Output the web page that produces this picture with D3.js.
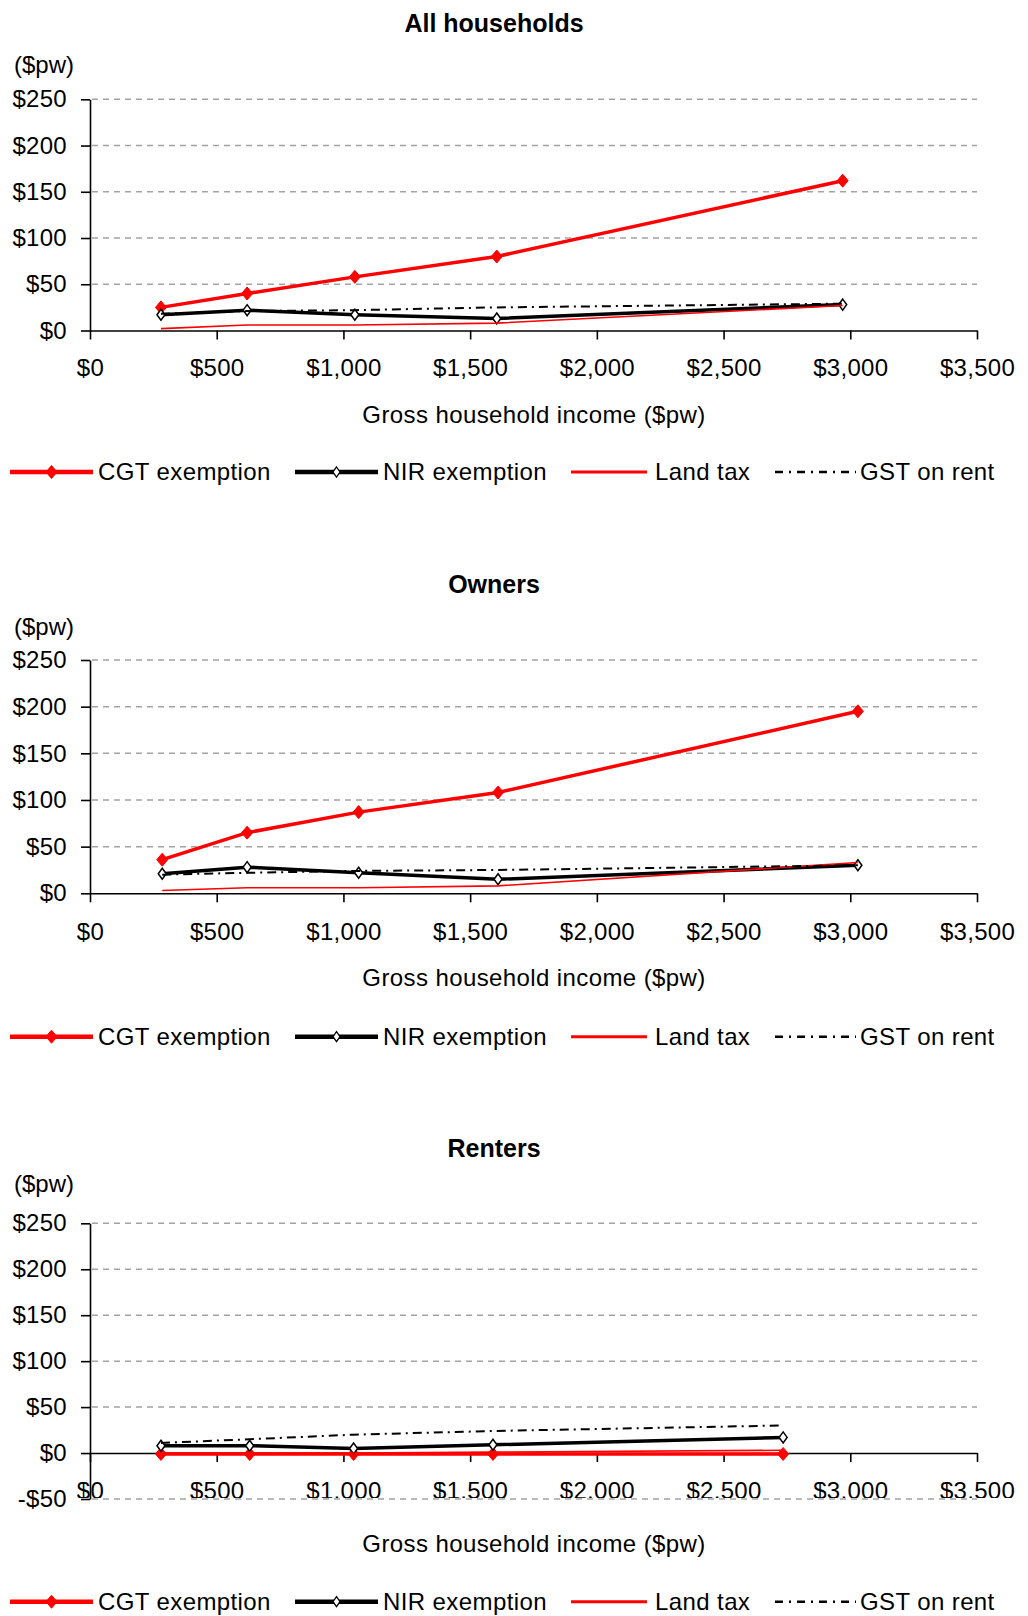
<!DOCTYPE html>
<html><head><meta charset="utf-8">
<script src="https://cdn.jsdelivr.net/npm/d3@7"></script>
<style>
body{margin:0;background:#fff}
text{font-family:"Liberation Sans",Arial,sans-serif;fill:#000}
</style>
</head><body>
<svg id="c" width="1028" height="1616"></svg>
<script>
// ---------- data ----------
const seriesNames = ["CGT exemption", "NIR exemption", "Land tax", "GST on rent"];
const xTicks = [0, 500, 1000, 1500, 2000, 2500, 3000, 3500];
const yTicksMain = [0, 50, 100, 150, 200, 250];
const yTicksRenters = [-50, 0, 50, 100, 150, 200, 250];

const allIncome = [280, 620, 1045, 1605, 2970];
const allCGT  = [25, 40, 58, 80, 162];
const allNIR  = [17, 22, 17, 13, 28];
const allLand = [2, 6, 6, 8, 27];
const allGST  = [18, 21, 22, 25, 29];

const ownIncome = [285, 620, 1060, 1610, 3030];
const ownCGT  = [36, 65, 87, 108, 195];
const ownNIR  = [21, 28, 22, 15, 30];
const ownLand = [3, 6, 6, 8, 33];
const ownGST  = [20, 22, 24, 25, 30];

const rentIncome = [280, 630, 1040, 1590, 2735];
const rentCGT  = [-1, -1, -1, -1, -1];
const rentNIR  = [8, 8, 5, 9, 17];
const rentLand = [0, 0, 0, 1, 3];
const rentGST  = [11, 15, 20, 24, 30];

// ---------- styles ----------
const styles = [
  {color: "#ff0000", width: 3.5, dash: null, marker: "filled", lw: 4.5, ldash: null},
  {color: "#000000", width: 3.5, dash: null, marker: "open", lw: 4.5, ldash: null},
  {color: "#ff0000", width: 1.6, dash: null, marker: null, lw: 3, ldash: null},
  {color: "#000000", width: 2, dash: "9,5,2,5", marker: null, lw: 2.5, ldash: "8,6,2,6"}
];
const legendLine = [[10, 93], [295, 378], [571, 647], [775, 856]];
const legendText = [98, 383, 655, 860];

const svg = d3.select("#c");
const defs = svg.append("defs");

function diamond(w, h) {
  return `M0,${-h/2}L${w/2},0L0,${h/2}L${-w/2},0Z`;
}

function drawChart(cfg, idx) {
  const x = d3.scaleLinear().domain([0, 3500]).range([90, 977]);
  const y = d3.scaleLinear().domain(cfg.yDomain).range(cfg.yRange);
  const g = svg.append("g");

  g.append("text").attr("x", 494).attr("y", cfg.titleY)
    .attr("text-anchor", "middle").attr("font-size", 25).attr("font-weight", "bold")
    .text(cfg.title);
  g.append("text").attr("x", 14).attr("y", cfg.unitY).attr("dy", "0.35em")
    .attr("font-size", 24).text("($pw)");

  // gridlines
  g.append("g").selectAll("line").data(cfg.yTicks.filter(v => v !== 0)).join("line")
    .attr("x1", 92).attr("x2", 977)
    .attr("y1", d => y(d)).attr("y2", d => y(d))
    .attr("stroke", "#a3a3a3").attr("stroke-width", 1.5).attr("stroke-dasharray", "6,5");

  // y axis
  const ya = g.append("g").attr("transform", "translate(90,0)")
    .call(d3.axisLeft(y).tickValues(cfg.yTicks).tickSize(9).tickSizeOuter(0).tickPadding(14)
      .tickFormat(d => (d < 0 ? "-" : "") + "$" + Math.abs(d)));
  ya.selectAll("text").attr("font-size", 24).attr("font-family", null).attr("letter-spacing", 0.3);
  ya.selectAll("line,path").attr("stroke", "#000").attr("stroke-width", 1.6);

  // x axis
  const clipId = "clip" + idx;
  defs.append("clipPath").attr("id", clipId).append("rect")
    .attr("x", 0).attr("y", 0).attr("width", 1028).attr("height", cfg.clipBottom);
  const xaWrap = g.append("g").attr("clip-path", `url(#${clipId})`);
  const xa = xaWrap.append("g").attr("transform", `translate(0,${y(0)})`)
    .call(d3.axisBottom(x).tickValues(xTicks).tickSize(9).tickSizeOuter(0)
      .tickFormat(d3.format("$,")));
  xa.selectAll("text").attr("font-size", 24).attr("font-family", null)
    .attr("y", cfg.labelOffset).attr("dy", "0.35em").attr("letter-spacing", 0.3);
  xa.selectAll("line,path").attr("stroke", "#000").attr("stroke-width", 1.6);

  g.append("text").attr("x", 534).attr("y", cfg.xTitleY).attr("dy", "0.35em")
    .attr("text-anchor", "middle").attr("font-size", 24).attr("letter-spacing", 0.4)
    .text("Gross household income ($pw)");

  // series
  const line = d3.line().x((d, i) => x(cfg.income[i])).y(d => y(d));
  cfg.series.forEach((vals, s) => {
    const st = styles[s];
    g.append("path").datum(vals).attr("d", line)
      .attr("fill", "none").attr("stroke", st.color).attr("stroke-width", st.width)
      .attr("stroke-dasharray", st.dash).attr("stroke-linejoin", "round");
    if (st.marker) {
      g.append("g").selectAll("path").data(vals).join("path")
        .attr("transform", (d, i) => `translate(${x(cfg.income[i])},${y(d)})`)
        .attr("d", st.marker === "filled" ? diamond(11, 13) : diamond(8, 11))
        .attr("fill", st.marker === "filled" ? st.color : "#fff")
        .attr("stroke", st.color).attr("stroke-width", st.marker === "filled" ? 1 : 1.5);
    }
  });

  // legend
  const lg = g.append("g").attr("transform", `translate(0,${cfg.legendY})`);
  seriesNames.forEach((name, s) => {
    const st = styles[s];
    lg.append("line").attr("x1", legendLine[s][0]).attr("x2", legendLine[s][1])
      .attr("y1", 0).attr("y2", 0).attr("stroke", st.color).attr("stroke-width", st.lw)
      .attr("stroke-dasharray", st.ldash);
    if (st.marker) {
      const mx = (legendLine[s][0] + legendLine[s][1]) / 2;
      lg.append("path").attr("transform", `translate(${mx},0)`)
        .attr("d", st.marker === "filled" ? diamond(11, 13) : diamond(7, 10))
        .attr("fill", st.marker === "filled" ? st.color : "#fff")
        .attr("stroke", st.color).attr("stroke-width", st.marker === "filled" ? 1 : 1.3);
    }
    lg.append("text").attr("x", legendText[s]).attr("y", 0).attr("dy", "0.35em")
      .attr("font-size", 24).attr("letter-spacing", 0.4).text(name);
  });
}

drawChart({
  title: "All households", titleY: 31.5, unitY: 65,
  yDomain: [0, 250], yRange: [330.5, 99.3], yTicks: yTicksMain,
  labelOffset: 37.5, clipBottom: 1616, xTitleY: 414.5, legendY: 472,
  income: allIncome, series: [allCGT, allNIR, allLand, allGST]
}, 0);

drawChart({
  title: "Owners", titleY: 593.3, unitY: 626.7,
  yDomain: [0, 250], yRange: [893.3, 660], yTicks: yTicksMain,
  labelOffset: 38.4, clipBottom: 1616, xTitleY: 978, legendY: 1036.7,
  income: ownIncome, series: [ownCGT, ownNIR, ownLand, ownGST]
}, 1);

drawChart({
  title: "Renters", titleY: 1157.3, unitY: 1183.3,
  yDomain: [-50, 250], yRange: [1499, 1223.3], yTicks: yTicksRenters,
  labelOffset: 38, clipBottom: 1498, xTitleY: 1543.4, legendY: 1601.7,
  income: rentIncome, series: [rentCGT, rentNIR, rentLand, rentGST]
}, 2);
</script>
</body></html>
